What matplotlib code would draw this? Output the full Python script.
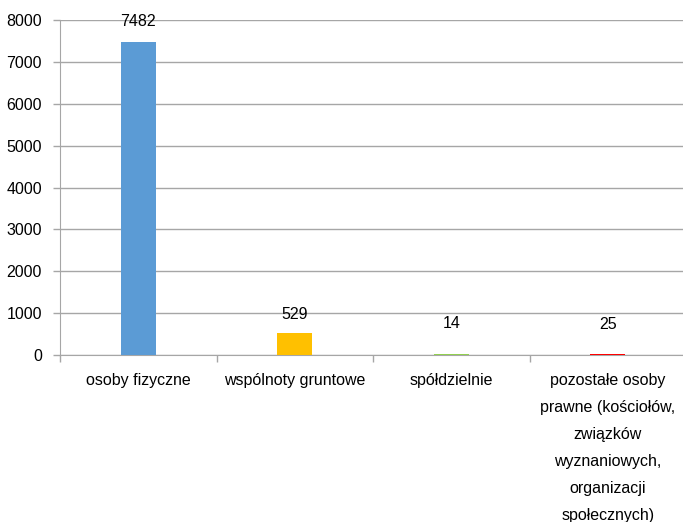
import matplotlib
matplotlib.use("Agg")
import matplotlib.pyplot as plt

categories = [
    "osoby fizyczne",
    "wspólnoty gruntowe",
    "spółdzielnie",
    "pozostałe osoby\nprawne (kościołów,\nzwiązków\nwyznaniowych,\norganizacji\nspołecznych)",
]
values = [7482, 529, 14, 25]
colors = ["#5B9BD5", "#FFC000", "#92D050", "#FF0000"]
yticks = [0, 1000, 2000, 3000, 4000, 5000, 6000, 7000, 8000]

plt.rcParams['font.family'] = ['Liberation Sans', 'DejaVu Sans']
FS = 11.5

fig = plt.figure(figsize=(6.83, 5.22), dpi=100)
ax = fig.add_axes([60/683, 1-355/522, 626/683, 335/522])

x = list(range(len(categories)))
ax.bar(x, values, width=0.225, color=colors, zorder=3)

label_offsets = [9, 8, 17, 16]
for xi, v, off in zip(x, values, label_offsets):
    ax.annotate(str(v), (xi, v), xytext=(0, off), textcoords="offset points",
                ha="center", va="bottom", fontsize=FS, color="#000000")

ax.set_xlim(-0.5, len(categories) - 0.5)
ax.set_ylim(0, 8000)
ax.set_yticks(yticks)
ax.set_yticklabels([str(t) for t in yticks], fontsize=FS)
ax.yaxis.grid(True, color="#A6A6A6", linewidth=1.0, zorder=0)

ax.set_xticks(x)
ax.set_xticklabels(categories, fontsize=FS, linespacing=2.0, va="top")
ax.tick_params(axis="x", length=0, pad=13)
ax.set_xticks([i - 0.5 for i in range(len(categories) + 1)], minor=True)
ax.tick_params(axis="x", which="minor", length=5, color="#A6A6A6", width=1)
ax.tick_params(axis="y", length=5, color="#A6A6A6", width=1, pad=8)

for s in ["top", "right"]:
    ax.spines[s].set_visible(False)
ax.spines["left"].set_color("#A6A6A6")
ax.spines["bottom"].set_color("#A6A6A6")
ax.set_axisbelow(True)

fig.savefig("out.png", dpi=100)
